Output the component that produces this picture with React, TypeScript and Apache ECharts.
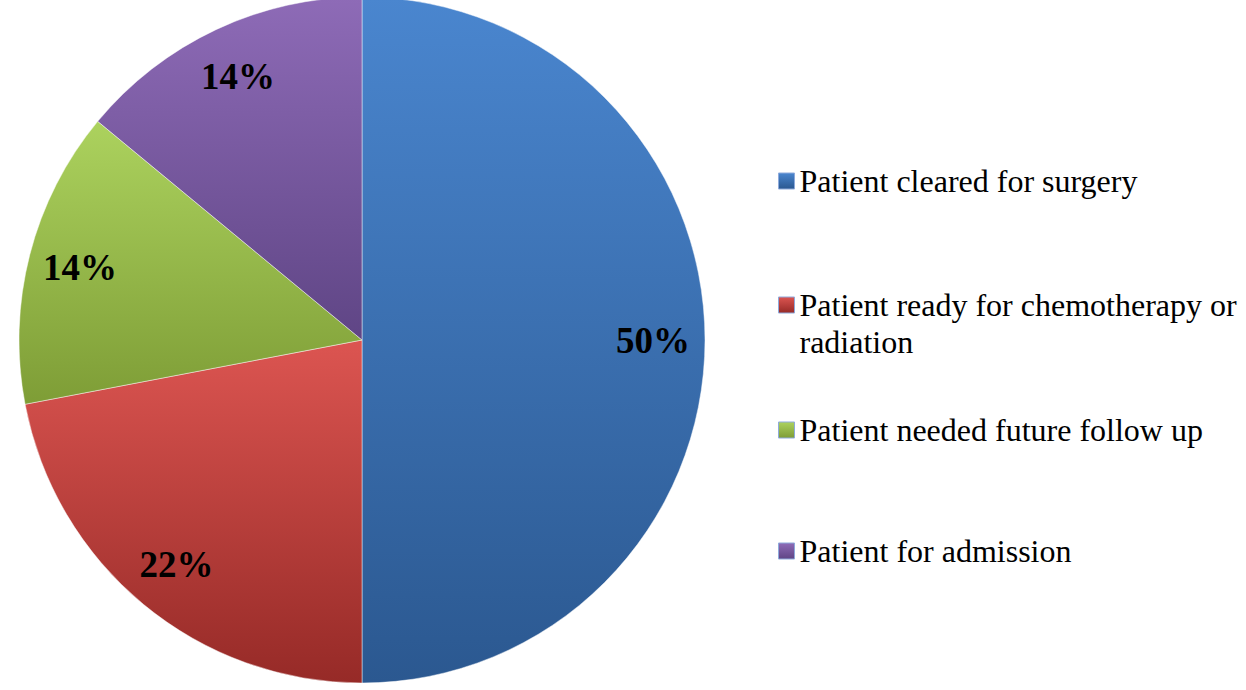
import React, { useEffect, useRef } from "react";
import * as echarts from "echarts";

const categories = [
  "Patient cleared for surgery",
  "Patient ready for chemotherapy or radiation",
  "Patient needed future follow up",
  "Patient for admission",
];
// category names as wrapped for the legend
const legendTexts = [
  "Patient cleared for surgery",
  "\u00a0\nPatient ready for chemotherapy or\nradiation",
  "Patient needed future follow up",
  "Patient for admission",
];
const values = [50, 22, 14, 14];
const percentLabels = ["50%", "22%", "14%", "14%"];
const topColors = ["#4a86cf", "#dc5551", "#acd25e", "#8e6bb7"];
const bottomColors = ["#2b5890", "#962a27", "#7e9d36", "#5f4585"];

const SERIF = "Liberation Serif";

export default function App() {
  const ref = useRef<HTMLDivElement>(null);
  useEffect(() => {
    if (!ref.current) return;
    const chart = echarts.init(ref.current, undefined, { renderer: "svg" });
    const R = 343;
    const center = [362, 340];
    const mainData = categories.map((_, i) => ({
      name: legendTexts[i],
      value: values[i],
      itemStyle: {
        color: new echarts.graphic.LinearGradient(0, 0, 0, 1, [
          { offset: 0, color: topColors[i] },
          { offset: 1, color: bottomColors[i] },
        ]),
      },
    }));
    const labelData = categories.map((_, i) => ({
      name: legendTexts[i],
      value: values[i],
      label: { formatter: percentLabels[i] },
    }));
    const LH = 37;
    const legendTops = [181 - LH / 2, 305 - (3 * LH) / 2, 430 - LH / 2, 551 - LH / 2];
    const legends = categories.map((_, i) => ({
      data: [legendTexts[i]],
      orient: "vertical",
      left: 778,
      top: legendTops[i],
      padding: 0,
      itemWidth: 16,
      itemHeight: 16,
      icon: "rect",
      selectedMode: false,
      itemStyle: { borderColor: "#8eaadb", borderWidth: 1 },
      textStyle: {
        fontFamily: SERIF,
        fontSize: 32,
        fontWeight: "normal",
        color: "#000",
        lineHeight: LH,
      },
    }));
    chart.setOption({
      animation: false,
      backgroundColor: "#fff",
      legend: legends,
      series: [
        {
          type: "pie",
          name: "main",
          center,
          radius: [0, R],
          startAngle: 90,
          clockwise: true,
          silent: true,
          label: { show: false },
          labelLine: { show: false },
          itemStyle: { borderColor: "rgba(255,255,255,0.45)", borderWidth: 1 },
          data: mainData,
        },
        {
          type: "pie",
          name: "labels",
          center,
          radius: [R * 0.68, R],
          startAngle: 90,
          clockwise: true,
          silent: true,
          itemStyle: { color: "rgba(0,0,0,0)" },
          label: {
            show: true,
            position: "inside",
            fontFamily: SERIF,
            fontWeight: "bold",
            fontSize: 37,
            color: "#000",
          },
          labelLine: { show: false },
          data: labelData,
        },
      ],
    });
    return () => chart.dispose();
  }, []);
  return (
    <div
      ref={ref}
      style={{ position: "fixed", left: 0, top: 0, width: 1246, height: 690 }}
    />
  );
}
